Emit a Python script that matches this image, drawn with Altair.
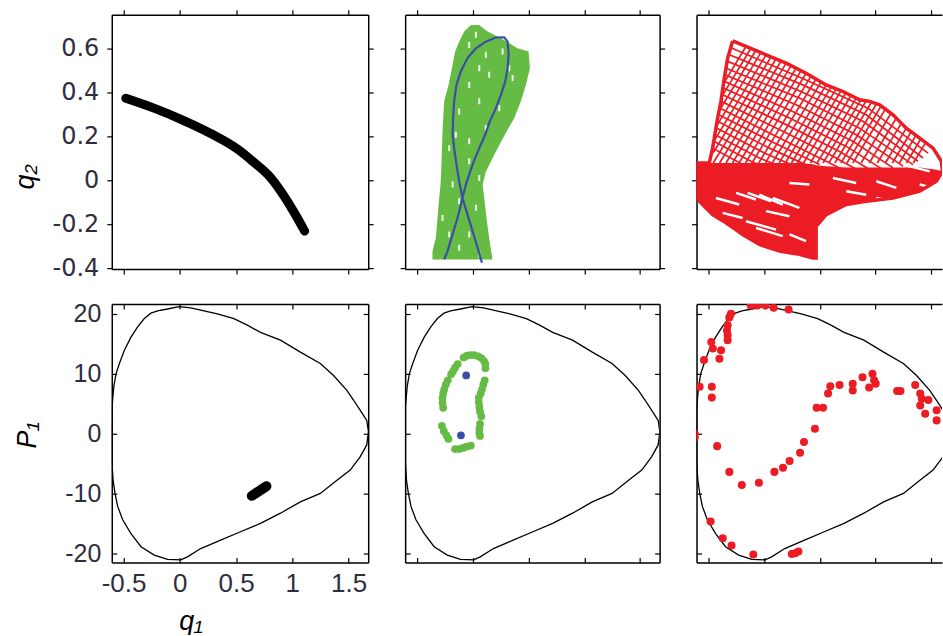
import altair as alt
import pandas as pd

FONT = "Liberation Sans"
WIDE_FONT = "DejaVu Sans"
INK = "#2f2d40"
GREEN = "#66bb44"
BLUE = "#3a4ea6"
RED = "#ec1c24"
TICK = 5

# axis ticks and panel ranges
Q1_TICKS = [-0.5, 0, 0.5, 1, 1.5]
Q2_TICKS = [-0.4, -0.2, 0, 0.2, 0.4, 0.6]
P1_TICKS = [-20, -10, 0, 10, 20]
Q1_RANGE = [-0.605, 1.675]
Q1_RANGE_EDGE = [-0.605, 1.595]
Q2_RANGE = [-0.403, 0.756]
P1_RANGE = [-21.53, 21.63]

# ---------------- top row: trajectories in (q1, q2) ----------------
# regular orbit (thick black band)
REG_Q1 = [-0.48, -0.23, 0.02, 0.27, 0.52, 0.65, 0.797, 0.9, 1.02, 1.11]
REG_Q2 = [0.375, 0.33, 0.277, 0.216, 0.141, 0.087, 0.020, -0.050, -0.148, -0.23]

# quasi-periodic band (green): q2 level, left and right q1 edges
BAND_Q2 = [0.709, 0.679, 0.648, 0.626, 0.603, 0.588, 0.512, 0.436, 0.361, 0.285,
           0.224, 0.133, 0.042, -0.018, -0.079, -0.170, -0.261, -0.321, -0.359]
BAND_LEFT = [-0.016, -0.076, -0.106, -0.127, -0.145, -0.157, -0.186, -0.216, -0.255, -0.264,
             -0.270, -0.276, -0.282, -0.288, -0.300, -0.315, -0.330, -0.360, -0.360]
BAND_RIGHT = [0.058, 0.133, 0.253, 0.328, 0.402, 0.501, 0.513, 0.477, 0.432, 0.373,
              0.304, 0.208, 0.119, 0.089, 0.104, 0.124, 0.148, 0.166, 0.178]
# gaps left by the green trajectory
GAP_Q1 = [0.029, -0.031, 0.118, 0.268, 0.059, 0.148, -0.031, 0.328, -0.121, 0.059, 0.238, 0.358,
          -0.151, -0.031, 0.118, -0.210, -0.031, -0.180, 0.059, -0.121, 0.029, -0.210, -0.031,
          -0.121, 0.059, -0.270, 0.118]
GAP_Q2 = [0.664, 0.618, 0.573, 0.588, 0.512, 0.482, 0.436, 0.512, 0.315, 0.361, 0.330, 0.467,
          0.209, 0.179, 0.239, 0.148, 0.088, -0.018, 0.012, -0.094, -0.124, -0.245, -0.245,
          -0.306, -0.336, -0.170, -0.094]

# periodic orbit (blue figure eight)
PER_Q1 = [-0.255, -0.225, -0.180, -0.136, -0.091, -0.061, -0.001, 0.059, 0.112, 0.154, 0.208,
          0.253, 0.292, 0.313, 0.322, 0.313, 0.283, 0.208, 0.118, 0.029, -0.046, -0.106, -0.145,
          -0.166, -0.175, -0.180, -0.166, -0.145, -0.121, -0.091, -0.046, -0.001, 0.044, 0.083]
PER_Q2 = [-0.359, -0.321, -0.245, -0.170, -0.079, -0.018, 0.073, 0.148, 0.209, 0.270, 0.330,
          0.391, 0.452, 0.512, 0.573, 0.633, 0.653, 0.652, 0.633, 0.603, 0.558, 0.497, 0.436,
          0.361, 0.285, 0.209, 0.148, 0.073, -0.003, -0.079, -0.155, -0.230, -0.306, -0.374]

# chaotic orbit (red): envelope, dense core, two families of strands, gaps
RED_EDGE = [(-0.281, 0.636), (-0.162, 0.611), (0.018, 0.573), (0.198, 0.535), (0.377, 0.489),
            (0.557, 0.436), (0.707, 0.406), (0.856, 0.368), (0.946, 0.361), (1.036, 0.345),
            (1.156, 0.300), (1.275, 0.239), (1.395, 0.194), (1.515, 0.148), (1.590, 0.088),
            (1.599, 0.042), (1.545, -0.003), (1.395, -0.048), (1.156, -0.079), (0.916, -0.094),
            (0.737, -0.109), (0.557, -0.155), (0.467, -0.208), (0.467, -0.352), (0.437, -0.352),
            (0.317, -0.336), (0.138, -0.321), (-0.042, -0.291), (-0.192, -0.245), (-0.341, -0.192),
            (-0.461, -0.155), (-0.551, -0.109), (-0.605, -0.079), (-0.605, 0.080), (-0.491, 0.080),
            (-0.461, 0.148), (-0.416, 0.285), (-0.386, 0.361), (-0.356, 0.467), (-0.326, 0.558),
            (-0.281, 0.636)]
CORE_Q1 = [-0.605, -0.551, -0.461, -0.341, -0.192, -0.042, 0.138, 0.317, 0.437, 0.467, 0.470,
           0.557, 0.737, 0.916, 1.156, 1.395, 1.545, 1.599]
CORE_TOP = [0.080, 0.080, 0.080, 0.080, 0.080, 0.080, 0.080, 0.080, 0.075, 0.070, 0.070,
            0.065, 0.060, 0.060, 0.060, 0.060, 0.050, 0.042]
CORE_BOT = [-0.079, -0.109, -0.155, -0.192, -0.245, -0.291, -0.321, -0.336, -0.352, -0.352, -0.208,
            -0.155, -0.109, -0.094, -0.079, -0.048, -0.003, 0.042]
STRANDS_A = [
    [(-0.296, 0.605), (0.362, 0.462), (0.931, 0.330), (1.470, 0.125)],
    [(-0.311, 0.573), (0.347, 0.436), (0.916, 0.300), (1.425, 0.103)],
    [(-0.326, 0.543), (0.332, 0.406), (0.886, 0.270), (1.380, 0.088)],
    [(-0.341, 0.512), (0.317, 0.376), (0.856, 0.239), (1.335, 0.073)],
    [(-0.349, 0.482), (0.287, 0.346), (0.826, 0.209), (1.246, 0.066)],
    [(-0.356, 0.452), (0.257, 0.315), (0.796, 0.179), (1.156, 0.058)],
    [(-0.364, 0.422), (0.228, 0.285), (0.737, 0.156), (1.066, 0.050)],
    [(-0.371, 0.391), (0.198, 0.255), (0.677, 0.133), (0.976, 0.042)],
    [(-0.383, 0.361), (0.168, 0.225), (0.617, 0.111), (0.886, 0.035)],
    [(-0.395, 0.330), (0.138, 0.194), (0.557, 0.088), (0.796, 0.027)],
    [(-0.406, 0.300), (0.093, 0.171), (0.497, 0.073)],
    [(-0.416, 0.270), (0.048, 0.148), (0.437, 0.058)],
    [(-0.427, 0.240), (0.003, 0.126), (0.347, 0.050)],
    [(-0.437, 0.209), (-0.042, 0.103), (0.257, 0.042)],
    [(-0.449, 0.179), (-0.102, 0.084), (0.100, 0.050)],
    [(-0.461, 0.148), (-0.162, 0.065)],
]
STRANDS_B = [
    [(-0.162, 0.611), (-0.350, 0.452)], [(-0.117, 0.603), (-0.376, 0.385)],
    [(-0.072, 0.595), (-0.401, 0.318)], [(-0.027, 0.584), (-0.428, 0.246)],
    [(0.018, 0.573), (-0.455, 0.174)], [(0.063, 0.564), (-0.455, 0.127)],
    [(0.108, 0.555), (-0.455, 0.080)], [(0.153, 0.545), (-0.398, 0.080)],
    [(0.198, 0.535), (-0.341, 0.080)], [(0.242, 0.524), (-0.283, 0.080)],
    [(0.287, 0.512), (-0.224, 0.080)], [(0.332, 0.501), (-0.166, 0.080)],
    [(0.377, 0.489), (-0.108, 0.080)], [(0.422, 0.477), (-0.048, 0.080)],
    [(0.467, 0.464), (0.012, 0.080)], [(0.512, 0.450), (0.074, 0.080)],
    [(0.557, 0.436), (0.135, 0.080)], [(0.602, 0.427), (0.191, 0.080)],
    [(0.647, 0.418), (0.246, 0.080)], [(0.692, 0.411), (0.300, 0.080)],
    [(0.737, 0.403), (0.353, 0.080)], [(0.782, 0.390), (0.415, 0.080)],
    [(0.826, 0.376), (0.476, 0.080)], [(0.871, 0.370), (0.529, 0.080)],
    [(0.916, 0.364), (0.581, 0.080)], [(0.961, 0.356), (0.635, 0.080)],
    [(1.006, 0.348), (0.689, 0.080)], [(1.051, 0.341), (0.743, 0.080)],
    [(1.096, 0.333), (0.796, 0.080)], [(1.141, 0.309), (0.870, 0.080)],
    [(1.186, 0.285), (0.943, 0.080)], [(1.231, 0.262), (1.015, 0.080)],
    [(1.275, 0.239), (1.087, 0.080)], [(1.320, 0.224), (1.150, 0.080)],
    [(1.365, 0.209), (1.213, 0.080)], [(1.410, 0.194), (1.276, 0.080)],
    [(1.455, 0.179), (1.338, 0.080)],
]
RED_GAPS = [
    [(-0.431, -0.079), (-0.222, -0.109)], [(-0.251, -0.056), (-0.072, -0.086)],
    [(-0.147, -0.056), (0.063, -0.094)], [(-0.042, -0.064), (0.168, -0.109)],
    [(0.078, -0.079), (0.317, -0.124)], [(-0.371, -0.147), (-0.192, -0.170)],
    [(-0.162, -0.185), (0.108, -0.223)], [(-0.072, -0.215), (0.168, -0.253)],
    [(0.018, -0.139), (0.228, -0.162)], [(0.228, -0.245), (0.377, -0.276)],
    [(1.006, -0.003), (1.186, -0.033)], [(1.246, 0.073), (1.485, 0.042)],
    [(0.617, 0.012), (0.826, -0.011)], [(0.228, -0.011), (0.407, -0.018)],
    [(1.006, -0.079), (1.156, -0.094)], [(0.737, -0.048), (0.916, -0.064)],
    [(1.395, -0.018), (1.515, -0.033)],
]

# ---------------- bottom row: Poincare sections (q1, P1) ----------------
BOUND_Q1 = [-0.605, -0.603, -0.587, -0.567, -0.537, -0.493, -0.434, -0.375, -0.316, -0.257, -0.198,
            -0.109, -0.006, 0.097, 0.215, 0.334, 0.481, 0.600, 0.717, 0.895, 1.072, 1.249, 1.367,
            1.485, 1.544, 1.603, 1.662, 1.677, 1.662, 1.603, 1.515, 1.397, 1.249, 1.072, 0.895,
            0.717, 0.540, 0.363, 0.186, 0.068, 0.009, -0.109, -0.227, -0.345, -0.434, -0.508,
            -0.552, -0.576, -0.593, -0.605, -0.605]
BOUND_P1 = [0.0, 4.4, 7.8, 10.0, 11.7, 13.9, 16.1, 17.8, 19.2, 20.1, 20.5,
            20.8, 21.2, 21.0, 20.5, 20.0, 19.2, 18.1, 16.9, 15.6, 13.6, 11.7, 9.7,
            7.2, 5.6, 3.9, 2.2, 0.3, -1.9, -3.9, -6.1, -7.8, -10.0, -11.4, -13.3,
            -15.0, -16.4, -17.8, -19.2, -20.6, -21.1, -21.0, -20.3, -18.9, -16.7, -14.4,
            -12.2, -10.0, -7.8, -4.4, 0.0]

# section of the regular orbit
BLOB_Q1 = [0.64, 0.77]
BLOB_P1 = [-10.4, -8.8]

# section of the quasi-periodic orbit (green) and the periodic orbit (blue)
QP_Q1 = [-0.081, -0.052, -0.022, 0.013, 0.049, 0.078, 0.102, 0.114, 0.114,
         -0.134, -0.158, -0.176, -0.193,
         -0.223, -0.240, -0.255, -0.264, -0.270, -0.270, -0.264,
         -0.276, -0.258, -0.235, -0.217,
         -0.158, -0.122, -0.087, -0.052, -0.016,
         0.108, 0.096, 0.084, 0.072,
         0.055, 0.055, 0.060, 0.066, 0.078,
         0.066, 0.060, 0.060, 0.066]
QP_P1 = [12.7, 13.0, 13.1, 13.1, 12.9, 12.6, 12.1, 11.6, 10.9,
         11.6, 11.0, 10.4, 9.9,
         8.9, 8.2, 7.4, 6.7, 5.9, 5.1, 4.3,
         1.3, 0.4, -0.3, -0.9,
         -2.6, -2.6, -2.4, -2.2, -2.0,
         8.9, 8.2, 7.4, 6.7,
         6.0, 5.2, 4.4, 3.7, 2.9,
         1.6, 0.8, 0.1, -0.4]
PO_Q1 = [-0.058, -0.105]
PO_P1 = [9.7, -0.3]

# section of the chaotic orbit (red)
CH_Q1 = [-0.119, -0.060, 0.013, 0.087, 0.220, -0.296, -0.311, -0.326, -0.332, -0.326, -0.326,
         -0.473, -0.459, -0.385, -0.400, -0.538, -0.577, -0.468, -0.468, -0.621, -0.621, -0.420,
         -0.311, -0.199, -0.046, 0.093, 0.170, 0.229, 0.323, 0.358, 0.456, 0.471, 0.529, 0.574,
         0.594, 0.677, 0.795, 0.795, 0.883, 0.942, 0.972, 0.987, 1.001, 1.193, 1.223, 1.355,
         1.400, 1.414, 1.400, 1.444, 1.473, 1.547, 1.547, -0.479, -0.370, -0.291, -0.096, 0.249,
         0.279, 0.308]
CH_P1 = [21.4, 21.4, 21.4, 21.0, 20.7, 20.0, 19.4, 18.1, 17.2, 16.4, 15.6,
         15.3, 14.2, 13.9, 12.5, 12.3, 7.8, 7.8, 6.0, 0.0, -0.6, -2.1,
         -6.4, -8.6, -8.2, -6.4, -5.7, -4.6, -3.2, -1.4, 0.8, 4.3, 4.3, 6.7,
         7.9, 8.1, 8.3, 7.2, 9.4, 7.7, 10.0, 8.9, 8.3, 7.1, 7.1, 8.1,
         6.7, 5.8, 4.7, 3.3, 5.6, 3.9, 2.2, -14.7, -17.5, -18.7, -20.2, -20.1,
         -20.0, -19.7]


def polylines(groups, xname, yname):
    rows = []
    for gid, pts in enumerate(groups):
        for k, (a, b) in enumerate(pts):
            rows.append({"id": gid, "k": k, xname: a, yname: b})
    return pd.DataFrame(rows)


def scales(xr, yr):
    return (alt.Scale(domain=xr, nice=False, zero=False),
            alt.Scale(domain=yr, nice=False, zero=False))


def axis(orient, values, **kw):
    opts = dict(orient=orient, values=values, grid=False, tickSize=TICK, tickColor="black",
                tickWidth=1.2, domainColor="black", domainWidth=1.5, labels=False, title=None)
    opts.update(kw)
    return alt.Axis(**opts)


def label_style(font, size, pad, **kw):
    return dict(labels=True, labelFont=font, labelFontSize=size, labelColor=INK,
                labelExpr="'' + datum.value", labelPadding=pad, **kw)


TITLE_STYLE = dict(titleFont=FONT, titleFontSize=27, titleFontStyle="italic",
                   titleFontWeight="normal", titleColor="black", titleBaseline="alphabetic",
                   titleAlign="center")


def framed(layers, xr, yr, w, h, xt, yt, inner, xlab=None, ylab=None, xtitle=None, ytitle=None,
           right=True):
    xs, ys = scales(xr, yr)
    cdf = pd.DataFrame({"cx": xr, "cy": yr})

    def carrier(xa, ya):
        return alt.Chart(cdf).mark_point(opacity=0, size=1).encode(
            x=alt.X("cx:Q", scale=xs, axis=xa),
            y=alt.Y("cy:Q", scale=ys, axis=ya),
        )

    xl = xlab or {}
    yl = ylab or {}
    xti = xtitle or {}
    yti = ytitle or {}
    guides = []
    if not inner:
        guides.append(carrier(axis("bottom", xt, **xl), axis("left", yt, **yl, **yti)))
        guides.append(carrier(axis("top", xt), axis("right", yt) if right else None))
    else:
        guides.append(carrier(axis("bottom", xt, offset=-TICK, domain=False, **xl),
                              axis("left", yt, offset=-TICK, domain=False, **yl)))
        guides.append(carrier(axis("top", xt, offset=-TICK, domain=False),
                              axis("right", yt, offset=-TICK, domain=False) if right else None))
        guides.append(carrier(axis("bottom", xt, ticks=False, **xti),
                              axis("left", yt, ticks=False, **yti)))
        guides.append(carrier(axis("top", xt, ticks=False),
                              axis("right", yt, ticks=False) if right else None))
    marks = [f(xs, ys) for f in layers]
    return (alt.layer(*marks, *guides)
            .resolve_axis(x="independent", y="independent")
            .properties(width=w, height=h))


# ---------- top-row layers ----------
def regular_orbit(xs, ys):
    df = pd.DataFrame({"q1": REG_Q1, "q2": REG_Q2, "k": range(len(REG_Q1))})
    return alt.Chart(df).mark_line(color="black", strokeWidth=9, strokeCap="round",
                                   strokeJoin="round", interpolate="monotone", clip=True).encode(
        x=alt.X("q1:Q", scale=xs, axis=None), y=alt.Y("q2:Q", scale=ys, axis=None), order="k:Q")


def qp_band(xs, ys):
    df = pd.DataFrame({"q2": BAND_Q2, "lo": BAND_LEFT, "hi": BAND_RIGHT})
    return alt.Chart(df).mark_area(orient="horizontal", color=GREEN, clip=True).encode(
        y=alt.Y("q2:Q", scale=ys, axis=None), x=alt.X("lo:Q", scale=xs, axis=None), x2="hi:Q")


def qp_gaps(xs, ys):
    df = pd.DataFrame({"q1": GAP_Q1, "q2": GAP_Q2})
    return alt.Chart(df).mark_tick(orient="vertical", color="white", thickness=2, size=6,
                                   opacity=0.9, clip=True).encode(
        x=alt.X("q1:Q", scale=xs, axis=None), y=alt.Y("q2:Q", scale=ys, axis=None))


def periodic_orbit(xs, ys):
    df = pd.DataFrame({"q1": PER_Q1, "q2": PER_Q2, "k": range(len(PER_Q1))})
    return alt.Chart(df).mark_line(color=BLUE, strokeWidth=2.2, clip=True).encode(
        x=alt.X("q1:Q", scale=xs, axis=None), y=alt.Y("q2:Q", scale=ys, axis=None), order="k:Q")


def chaos_core(xs, ys):
    df = pd.DataFrame({"q1": CORE_Q1, "top": CORE_TOP, "bot": CORE_BOT})
    return alt.Chart(df).mark_area(color=RED, clip=True).encode(
        x=alt.X("q1:Q", scale=xs, axis=None), y=alt.Y("top:Q", scale=ys, axis=None), y2="bot:Q")


def chaos_lines(groups, color, width):
    def build(xs, ys):
        df = polylines(groups, "q1", "q2")
        return alt.Chart(df).mark_line(color=color, strokeWidth=width, clip=True).encode(
            x=alt.X("q1:Q", scale=xs, axis=None), y=alt.Y("q2:Q", scale=ys, axis=None),
            detail="id:N", order="k:Q")
    return build


# ---------- bottom-row layers ----------
def boundary(xs, ys):
    df = pd.DataFrame({"q1": BOUND_Q1, "p1": BOUND_P1, "k": range(len(BOUND_Q1))})
    return alt.Chart(df).mark_line(color="black", strokeWidth=1.3, clip=True).encode(
        x=alt.X("q1:Q", scale=xs, axis=None), y=alt.Y("p1:Q", scale=ys, axis=None), order="k:Q")


def blob(xs, ys):
    df = pd.DataFrame({"q1": BLOB_Q1, "p1": BLOB_P1, "k": range(len(BLOB_Q1))})
    return alt.Chart(df).mark_line(color="black", strokeWidth=10, strokeCap="round").encode(
        x=alt.X("q1:Q", scale=xs, axis=None), y=alt.Y("p1:Q", scale=ys, axis=None), order="k:Q")


def dots(q1, p1, color, size):
    def build(xs, ys):
        df = pd.DataFrame({"q1": q1, "p1": p1})
        return alt.Chart(df).mark_circle(color=color, size=size, opacity=1, clip=True).encode(
            x=alt.X("q1:Q", scale=xs, axis=None), y=alt.Y("p1:Q", scale=ys, axis=None))
    return build


x_labels = label_style(FONT, 26, 8)
y_labels_top = label_style(WIDE_FONT, 24, 8, labelBaseline="middle")
y_labels_bot = label_style(FONT, 25, 11, labelBaseline="middle")

q2_title = dict(title="q₂", titleX=-78, titleY=162, titleAngle=270, **TITLE_STYLE)
p1_title = dict(title="P₁", titleX=-76, titleY=131, titleAngle=270, **TITLE_STYLE)
q1_title = dict(title="q₁", titleX=79, titleY=67, titleAngle=0, **TITLE_STYLE)

p1 = framed([regular_orbit], Q1_RANGE, Q2_RANGE, 257, 255, Q1_TICKS, Q2_TICKS, False,
            ylab=y_labels_top, ytitle=q2_title)
p2 = framed([qp_band, qp_gaps, periodic_orbit], Q1_RANGE, Q2_RANGE, 255, 255, Q1_TICKS,
            Q2_TICKS, False)
p3 = framed([chaos_core, chaos_lines(RED_GAPS, "white", 2.5), chaos_lines(STRANDS_A, RED, 1.7),
             chaos_lines(STRANDS_B, RED, 1.7), chaos_lines([RED_EDGE], RED, 3.5)],
            Q1_RANGE_EDGE, Q2_RANGE, 246, 255, Q1_TICKS, Q2_TICKS, False, right=False)
p4 = framed([boundary, blob], Q1_RANGE, P1_RANGE, 257, 259, Q1_TICKS, P1_TICKS, True,
            xlab=x_labels, ylab=y_labels_bot, xtitle=q1_title, ytitle=p1_title)
p5 = framed([boundary, dots(QP_Q1, QP_P1, GREEN, 60), dots(PO_Q1, PO_P1, BLUE, 60)],
            Q1_RANGE, P1_RANGE, 255, 259, Q1_TICKS, P1_TICKS, True)
p6 = framed([boundary, dots(CH_Q1, CH_P1, RED, 65)], Q1_RANGE_EDGE, P1_RANGE, 246, 259,
            Q1_TICKS, P1_TICKS, True, right=False)

chart = (
    alt.concat(p1, p2, p3, p4, p5, p6, columns=3, spacing={"row": 35, "column": 37},
               bounds="flush")
    .properties(padding={"left": 12, "top": 8, "right": 0, "bottom": 0}, background="white")
    .configure_view(stroke=None)
)

chart.save("out.html", embed_options={"renderer": "svg", "actions": False})
